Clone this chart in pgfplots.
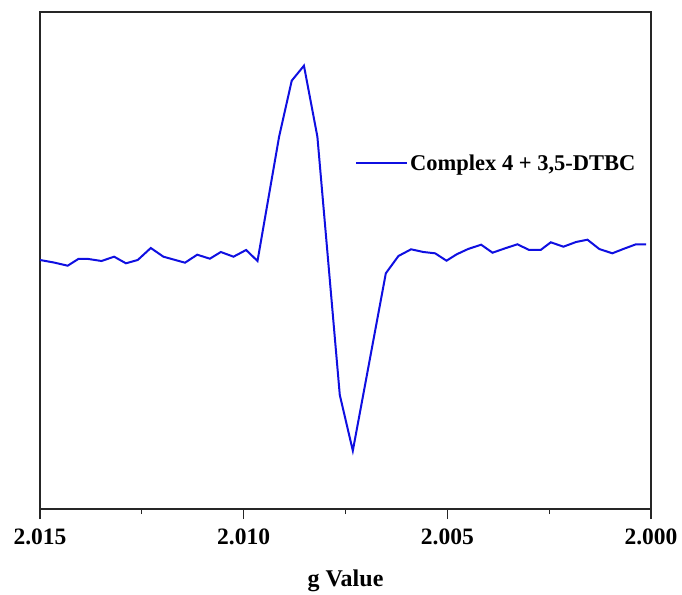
\documentclass[border=0pt]{standalone}
\usepackage{pgfplots}
\pgfplotsset{compat=1.18}
\usepackage{fontspec}
\setmainfont{Liberation Serif}
\definecolor{epr}{RGB}{15,15,225}
\begin{document}
\begin{tikzpicture}
\begin{axis}[
  scale only axis,
  width=611pt, height=497pt,
  x dir=reverse,
  xmin=2.000, xmax=2.015,
  ymin=0, ymax=497,
  xtick={2.000,2.005,2.010,2.015},
  minor xtick={2.0025,2.0075,2.0125},
  ytick=\empty,
  xtick pos=bottom,
  tick align=outside,
  major tick length=10pt,
  minor tick length=5pt,
  axis line style={line width=1.2pt, black!85},
  tick style={line width=1.2pt, black!85},
  /pgf/number format/assume math mode=true,
  xticklabel style={/pgf/number format/.cd, fixed, fixed zerofill, precision=3, /tikz/.cd, font=\fontsize{23.5}{27}\selectfont\bfseries, yshift=-6pt},
  xlabel={g Value},
  xlabel style={font=\fontsize{24}{28}\selectfont\bfseries, yshift=-18pt},
  legend style={draw=none, fill=none, at={(0.5155,0.696)}, anchor=west, inner sep=0pt,
    font=\fontsize{22.5}{27}\selectfont\bfseries},
  legend cell align=left,
  legend image code/.code={\draw[#1] (0pt,0pt) -- (51pt,0pt);},
]
\addplot[epr, line width=2pt] coordinates {
(2.01500,249) (2.01466,246.5) (2.01432,243.3) (2.01406,250) (2.01381,250)
(2.01349,248) (2.01318,252.3) (2.01289,245.7) (2.01260,249) (2.01228,261)
(2.01197,252.3) (2.01144,246.3) (2.01114,254.3) (2.01083,250.3) (2.01056,257)
(2.01025,252.3) (2.00994,259) (2.00966,248) (2.00913,372.3) (2.00882,428.3)
(2.00852,443.3) (2.00819,372.3) (2.00764,114) (2.00732,58.3) (2.00651,235.7)
(2.00620,253) (2.00589,259.7) (2.00559,257) (2.00530,255.7) (2.00502,248.3)
(2.00477,254.7) (2.00449,260) (2.00417,264.3) (2.00389,256.3) (2.00358,260.7)
(2.00328,264.7) (2.00299,259) (2.00271,259) (2.00246,266.7) (2.00215,262.3)
(2.00184,267) (2.00156,269.3) (2.00127,260) (2.00095,255.7) (2.00068,260)
(2.00037,264.7) (2.00012,264.7)
};
\addlegendentry{Complex 4 + 3,5-DTBC}
\end{axis}
\pgfresetboundingbox
\path (current axis.south west) ++(-40pt,-85pt) rectangle ++(682pt,594pt);
\end{tikzpicture}
\end{document}
